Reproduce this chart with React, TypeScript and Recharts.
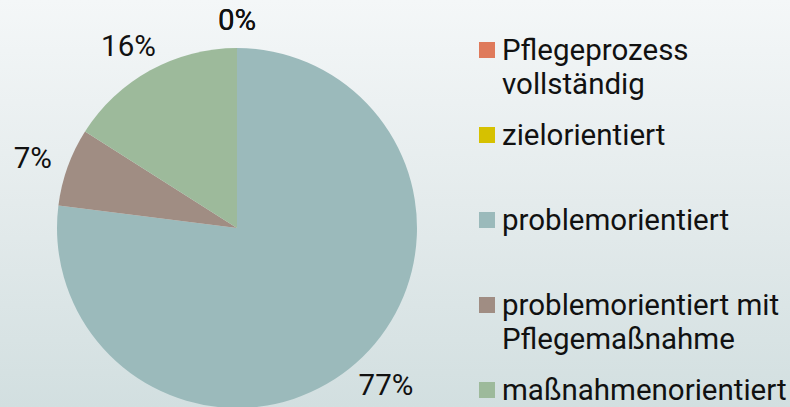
import React from 'react';
import { PieChart, Pie, Cell, Legend } from 'recharts';

const categories = [
  'Pflegeprozess vollständig',
  'zielorientiert',
  'problemorientiert',
  'problemorientiert mit Pflegemaßnahme',
  'maßnahmenorientiert',
];
const shares = [0, 0, 77, 7, 16];
const colors = ['#df7a5b', '#d6c100', '#9bbabb', '#a08d83', '#9dba9b'];

const data = categories.map((name, i) => ({ name, value: shares[i] }));

const RAD = Math.PI / 180;
const FONT = 'Roboto, "Noto Sans", sans-serif';
const FS = 29.5;

const renderLabel = (props: any) => {
  const { cx, cy, midAngle, outerRadius, percent } = props;
  const text = `${Math.round((percent || 0) * 100)}%`;
  const dx = Math.cos(-midAngle * RAD);
  const dy = Math.sin(-midAngle * RAD);
  const w = (text.length - 1) * 0.56 * FS + 0.73 * FS;
  const h = 21;
  const r = outerRadius + 18;
  const x = cx + dx * r + (dx * w) / 2;
  const y = cy + dy * r + (dy * h) / 2;
  return (
    <text x={x} y={y} dy="0.35em" textAnchor="middle" fill="#111" fontSize={FS} fontFamily={FONT}>
      {text}
    </text>
  );
};

const renderLegend = () => (
  <div style={{ fontFamily: FONT, fontSize: FS, lineHeight: '34px', color: '#111' }}>
    {categories.map((name, i) => (
      <div key={name} style={{ height: 85, display: 'flex', alignItems: 'flex-start' }}>
        <span
          style={{
            width: 16,
            height: 16,
            marginTop: 9,
            marginRight: 7,
            background: colors[i],
            flex: '0 0 16px',
          }}
        />
        <span style={{ width: 290 }}>{name}</span>
      </div>
    ))}
  </div>
);

export default function App() {
  return (
    <div
      style={{
        position: 'fixed',
        left: 0,
        top: 0,
        width: 790,
        height: 407,
        overflow: 'hidden',
        background: 'linear-gradient(to bottom, #f4f7f8 0%, #e4ebec 50%, #d2dfe0 100%)',
      }}
    >
      <PieChart width={790} height={407} margin={{ top: 0, right: 0, bottom: 0, left: 0 }}>
        <Pie
          data={data}
          dataKey="value"
          nameKey="name"
          cx={237}
          cy={228}
          outerRadius={180}
          startAngle={90}
          endAngle={-270}
          stroke="none"
          label={renderLabel}
          labelLine={false}
          isAnimationActive={false}
        >
          {data.map((d, i) => (
            <Cell key={d.name} fill={colors[i]} />
          ))}
        </Pie>
        <Legend
          layout="vertical"
          verticalAlign="top"
          align="right"
          content={renderLegend}
          wrapperStyle={{ left: 479, top: 33, width: 311 }}
        />
      </PieChart>
    </div>
  );
}
